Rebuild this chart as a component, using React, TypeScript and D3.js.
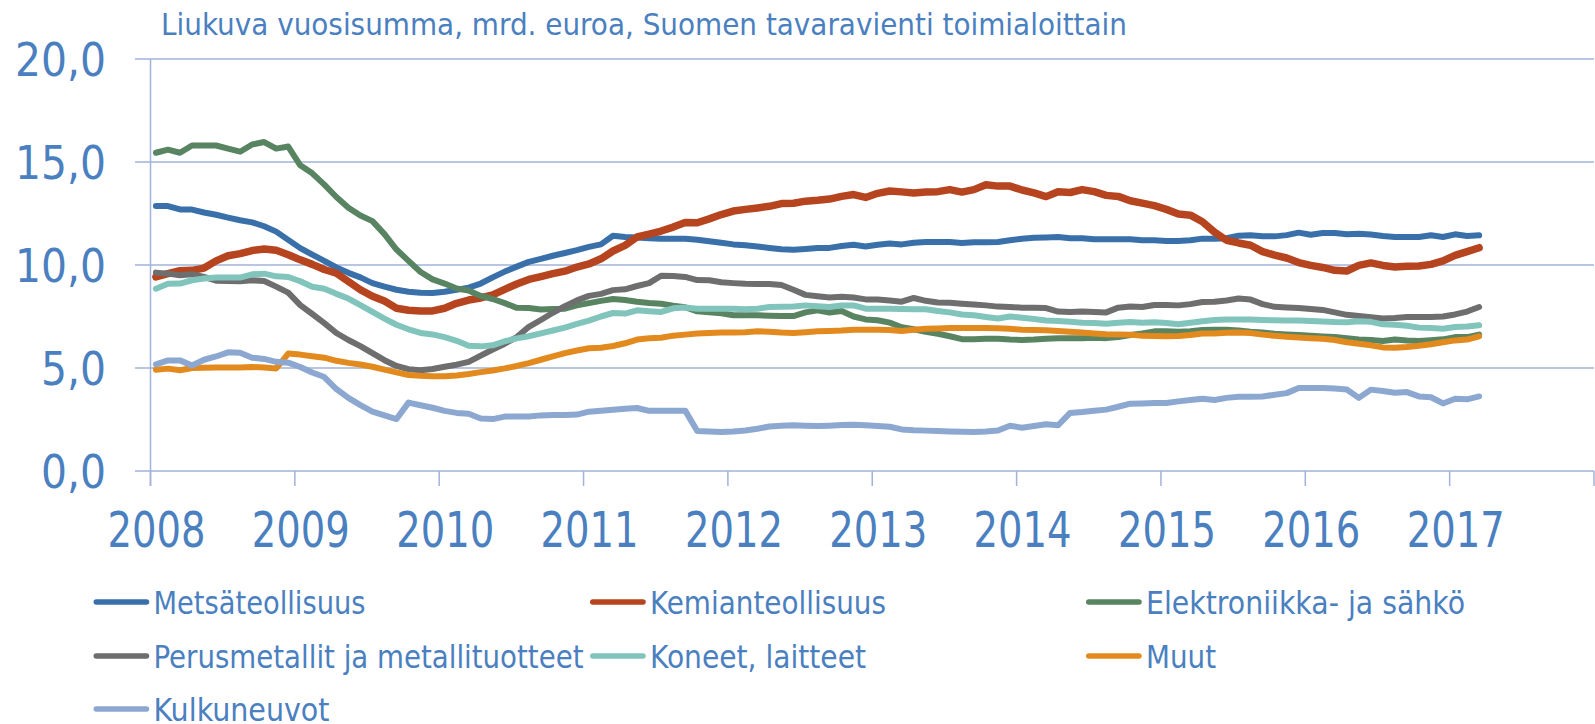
import React from 'react';
import * as d3 from 'd3';

const years = [2008, 2009, 2010, 2011, 2012, 2013, 2014, 2015, 2016, 2017];
const yTicks = [0, 5, 10, 15, 20];
const title = 'Liukuva vuosisumma, mrd. euroa, Suomen tavaravienti toimialoittain';

const metsa = [
  12.86, 12.86, 12.7, 12.69, 12.55, 12.44, 12.3, 12.17, 12.07, 11.88, 11.62, 11.22,
  10.82, 10.5, 10.2, 9.88, 9.62, 9.4, 9.12, 8.95, 8.8, 8.7, 8.65, 8.64,
  8.7, 8.8, 8.9, 9.1, 9.4, 9.68, 9.92, 10.15, 10.3, 10.45, 10.58, 10.72,
  10.88, 11.0, 11.42, 11.36, 11.33, 11.3, 11.28, 11.28, 11.27, 11.23, 11.15, 11.08,
  11.0, 10.96, 10.9, 10.83, 10.76, 10.74, 10.78, 10.82, 10.83, 10.92, 10.98, 10.9,
  10.98, 11.04, 11.0, 11.08, 11.12, 11.12, 11.12, 11.07, 11.1, 11.1, 11.12, 11.2,
  11.27, 11.32, 11.34, 11.36, 11.3, 11.3, 11.25, 11.25, 11.25, 11.25, 11.2, 11.2,
  11.17, 11.17, 11.2, 11.28, 11.28, 11.3, 11.42, 11.44, 11.4, 11.39, 11.45, 11.57,
  11.47, 11.55, 11.55, 11.49, 11.52, 11.48, 11.41, 11.36, 11.36, 11.36, 11.44, 11.36,
  11.49, 11.41, 11.44,
];
const kemian = [
  9.42, 9.58, 9.72, 9.74, 9.85, 10.2, 10.45, 10.55, 10.7, 10.78, 10.72, 10.5,
  10.25, 10.03, 9.78, 9.6, 9.2, 8.8, 8.48, 8.25, 7.9, 7.8, 7.77, 7.77,
  7.9, 8.14, 8.3, 8.4, 8.55, 8.82, 9.08, 9.3, 9.44, 9.58, 9.7, 9.9,
  10.05, 10.3, 10.68, 10.95, 11.36, 11.5, 11.65, 11.84, 12.06, 12.05, 12.24, 12.45,
  12.62, 12.7, 12.77, 12.85, 12.98, 13.0, 13.1, 13.14, 13.2, 13.33, 13.42, 13.28,
  13.48, 13.59, 13.55, 13.5, 13.54, 13.56, 13.66, 13.54, 13.66, 13.9, 13.83, 13.83,
  13.64, 13.5, 13.32, 13.56, 13.52, 13.66, 13.56, 13.38, 13.33, 13.12, 13.0, 12.88,
  12.7, 12.48, 12.42, 12.1, 11.6, 11.2, 11.07, 10.96, 10.65, 10.48, 10.34, 10.12,
  9.98, 9.88, 9.74, 9.71, 9.98, 10.1, 9.98, 9.9, 9.94, 9.95, 10.03, 10.2,
  10.47, 10.65, 10.84,
];
const elektroniikka = [
  15.45, 15.6, 15.45, 15.8, 15.8, 15.8, 15.65, 15.5, 15.85, 15.97, 15.65, 15.75,
  14.84, 14.45, 13.9, 13.3, 12.78, 12.4, 12.13, 11.5, 10.75, 10.2, 9.66, 9.3,
  9.1, 8.86, 8.76, 8.5, 8.35, 8.15, 7.92, 7.91, 7.84, 7.86, 7.88, 8.04,
  8.15, 8.26, 8.35, 8.3, 8.22, 8.16, 8.12, 8.02, 7.95, 7.75, 7.7, 7.66,
  7.56, 7.56, 7.56, 7.54, 7.53, 7.52, 7.7, 7.8, 7.69, 7.77, 7.5, 7.36,
  7.32, 7.2, 6.98, 6.88, 6.76, 6.66, 6.54, 6.4, 6.4, 6.42, 6.42, 6.38,
  6.36, 6.38, 6.42, 6.44, 6.45, 6.45, 6.47, 6.45, 6.5, 6.6, 6.68, 6.78,
  6.78, 6.76, 6.78, 6.84, 6.86, 6.86, 6.82, 6.76, 6.72, 6.66, 6.63, 6.6,
  6.56, 6.53, 6.5, 6.45, 6.38, 6.36, 6.31, 6.38, 6.33, 6.31, 6.35, 6.39,
  6.5, 6.5, 6.62,
];
const perusmetallit = [
  9.63, 9.58, 9.5, 9.55, 9.42, 9.24, 9.22, 9.21, 9.26, 9.22, 8.95, 8.66,
  8.05, 7.62, 7.18, 6.7, 6.36, 6.06, 5.72, 5.38, 5.1, 4.94, 4.89, 4.95,
  5.06, 5.16, 5.3, 5.6, 5.9, 6.18, 6.5, 7.0, 7.33, 7.68, 8.0, 8.28,
  8.5, 8.6, 8.78, 8.82, 8.98, 9.12, 9.48, 9.47, 9.42, 9.27, 9.26, 9.16,
  9.12, 9.09, 9.08, 9.08, 9.03, 8.8, 8.55, 8.48, 8.42, 8.46, 8.42, 8.33,
  8.33, 8.28, 8.22, 8.4, 8.26, 8.18, 8.17, 8.12, 8.08, 8.04, 7.98, 7.96,
  7.93, 7.92, 7.91, 7.74, 7.72, 7.74, 7.72, 7.7, 7.93, 7.99, 7.96, 8.06,
  8.06, 8.04, 8.1, 8.2, 8.22, 8.28, 8.37, 8.32, 8.1, 7.97, 7.94, 7.91,
  7.86, 7.82, 7.7, 7.58, 7.52, 7.46, 7.4, 7.43, 7.48, 7.48, 7.48, 7.5,
  7.6, 7.74, 7.96,
];
const koneet = [
  8.85, 9.09, 9.1, 9.26, 9.34, 9.39, 9.39, 9.39, 9.55, 9.58, 9.45, 9.42,
  9.21, 8.94, 8.85, 8.6, 8.37, 8.05, 7.72, 7.4, 7.1, 6.88, 6.7, 6.63,
  6.5, 6.32, 6.08, 6.05, 6.1, 6.3, 6.44, 6.54, 6.68, 6.82, 6.96, 7.14,
  7.3, 7.5, 7.67, 7.64, 7.8, 7.76, 7.72, 7.9, 7.94, 7.88, 7.88, 7.88,
  7.88, 7.85, 7.88, 7.96, 7.97, 7.99, 8.04, 8.0, 7.96, 8.04, 8.04, 7.88,
  7.88, 7.88, 7.86, 7.85, 7.85, 7.77, 7.7, 7.6, 7.56, 7.48, 7.4, 7.5,
  7.44, 7.38, 7.31, 7.28, 7.24, 7.2, 7.18, 7.15, 7.2, 7.23, 7.2, 7.22,
  7.18, 7.12, 7.2, 7.27, 7.33, 7.35, 7.35, 7.35, 7.33, 7.32, 7.31, 7.3,
  7.28, 7.26, 7.23, 7.22, 7.27, 7.24, 7.12, 7.1, 7.05, 6.96, 6.94, 6.91,
  6.99, 7.02, 7.07,
];
const muut = [
  4.92, 4.97, 4.89, 5.0, 5.01, 5.02, 5.02, 5.02, 5.05, 5.02, 4.98, 5.7,
  5.65, 5.57, 5.5, 5.35, 5.25, 5.17, 5.06, 4.92, 4.79, 4.66, 4.62, 4.6,
  4.6, 4.64, 4.71, 4.8, 4.88, 4.98, 5.1, 5.24, 5.4, 5.56, 5.72, 5.85,
  5.96, 5.98, 6.07, 6.2, 6.38, 6.44, 6.47, 6.57, 6.62, 6.67, 6.7, 6.72,
  6.72, 6.74, 6.78, 6.76, 6.72, 6.7, 6.74, 6.78, 6.8, 6.82, 6.86, 6.86,
  6.86, 6.84, 6.8, 6.86, 6.9, 6.92, 6.94, 6.94, 6.94, 6.94, 6.93, 6.9,
  6.86, 6.85, 6.83, 6.8, 6.76, 6.72, 6.68, 6.64, 6.63, 6.62, 6.56, 6.55,
  6.54, 6.55, 6.6, 6.67, 6.68, 6.71, 6.72, 6.7, 6.62, 6.56, 6.52, 6.48,
  6.45, 6.42, 6.36, 6.25, 6.18, 6.1, 6.0, 5.98, 6.02, 6.08, 6.15, 6.25,
  6.34, 6.38, 6.54,
];
const kulkuneuvot = [
  5.18, 5.37, 5.37, 5.12, 5.4, 5.56, 5.76, 5.74, 5.5, 5.44, 5.3, 5.26,
  5.05, 4.78, 4.56, 3.98, 3.55, 3.2, 2.88, 2.7, 2.52, 3.32, 3.19, 3.07,
  2.92, 2.82, 2.78, 2.55, 2.52, 2.64, 2.64, 2.65, 2.7, 2.72, 2.72, 2.74,
  2.88, 2.92, 2.97, 3.02, 3.06, 2.92, 2.92, 2.93, 2.93, 1.94, 1.92, 1.89,
  1.92, 1.97, 2.05, 2.16, 2.2, 2.22, 2.2, 2.18, 2.2, 2.23, 2.25, 2.22,
  2.18, 2.15, 2.02, 1.98, 1.96, 1.94, 1.92, 1.91, 1.89, 1.92, 1.97, 2.2,
  2.1, 2.18, 2.27, 2.22, 2.82, 2.86, 2.92, 2.98, 3.12, 3.27, 3.28, 3.3,
  3.3, 3.38, 3.45, 3.51, 3.45, 3.55, 3.6, 3.61, 3.62, 3.7, 3.78, 4.03,
  4.03, 4.03, 4.0, 3.96, 3.55, 3.95, 3.88, 3.8, 3.83, 3.62, 3.58, 3.28,
  3.51, 3.48, 3.62,
];

const seriesNames = [
  'Metsäteollisuus',
  'Kemianteollisuus',
  'Elektroniikka- ja sähkö',
  'Perusmetallit ja metallituotteet',
  'Koneet, laitteet',
  'Muut',
  'Kulkuneuvot',
];
const seriesValues = [metsa, kemian, elektroniikka, perusmetallit, koneet, muut, kulkuneuvot];
const seriesColors = ['#3A70AA', '#B5441F', '#588462', '#6E6E6E', '#80C4BC', '#E38A1E', '#8CA8D1'];
const seriesWidths = [6, 7.5, 6, 6, 6, 6, 6];
const legendTextWidths = [212, 236, 319, 430, 216, 70, 176];

const W = 1595;
const H = 724;
const TEXT = '#4A80C0';
const GRID = '#A0B3DA';
const FONT = "'DejaVu Sans Condensed', 'Liberation Sans Narrow', 'DejaVu Sans', sans-serif";

export default function App() {
  const x = d3.scaleLinear().domain([0, 120]).range([150.5, 1594]);
  const y = d3.scaleLinear().domain([0, 20]).range([471, 59]);
  const line = d3
    .line<number>()
    .x((_, i) => x(i + 0.45))
    .y((d) => y(d));

  const legendCols = [93.5, 590, 1086];
  const legendRows = [602, 656, 709];

  return (
    <svg
      width={W}
      height={H}
      viewBox={`0 0 ${W} ${H}`}
      style={{ position: 'absolute', left: 0, top: 0, background: '#fff' }}
      fontFamily={FONT}
    >
      <rect x={0} y={0} width={W} height={H} fill="#fff" />
      <text x={161} y={34.5} fontSize={31} fill={TEXT} textLength={966} lengthAdjust="spacingAndGlyphs">
        {title}
      </text>

      {yTicks.map((t) => (
        <g key={`y${t}`}>
          <line x1={135} x2={1594} y1={y(t)} y2={y(t)} stroke={GRID} strokeWidth={1.5} />
          <text
            x={106}
            y={y(t) + 16.7}
            fontSize={46}
            fill={TEXT}
            textAnchor="end"
            textLength={t >= 10 ? 91 : 65}
            lengthAdjust="spacingAndGlyphs"
          >
            {d3.format('.1f')(t).replace('.', ',')}
          </text>
        </g>
      ))}

      <line x1={x(0)} x2={x(0)} y1={y(20)} y2={486} stroke={GRID} strokeWidth={1.5} />
      {d3.range(0, 121, 12).map((m) => (
        <line key={`t${m}`} x1={x(m)} x2={x(m)} y1={y(0)} y2={486} stroke={GRID} strokeWidth={1.5} />
      ))}
      {years.map((yr, k) => (
        <text
          key={`x${yr}`}
          x={x(k * 12) + 6}
          y={547}
          fontSize={50}
          fill={TEXT}
          textAnchor="middle"
          textLength={98}
          lengthAdjust="spacingAndGlyphs"
        >
          {yr}
        </text>
      ))}

      {seriesValues.map((vals, s) => (
        <path
          key={`s${s}`}
          d={line(vals) || ''}
          fill="none"
          stroke={seriesColors[s]}
          strokeWidth={seriesWidths[s]}
          strokeLinejoin="round"
          strokeLinecap="round"
        />
      ))}

      {seriesNames.map((name, s) => {
        const cx = legendCols[s % 3];
        const cy = legendRows[Math.floor(s / 3)];
        return (
          <g key={`l${s}`}>
            <line
              x1={cx + 2.75}
              x2={cx + 53}
              y1={cy}
              y2={cy}
              stroke={seriesColors[s]}
              strokeWidth={5.5}
              strokeLinecap="round"
            />
            <text
              x={cx + 60}
              y={cy + 11.5}
              fontSize={32}
              fill={TEXT}
              textLength={legendTextWidths[s]}
              lengthAdjust="spacingAndGlyphs"
            >
              {name}
            </text>
          </g>
        );
      })}
    </svg>
  );
}
